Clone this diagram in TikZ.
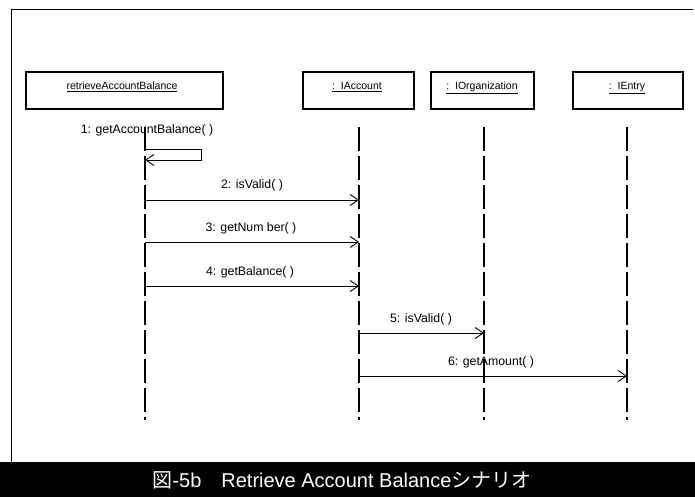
\documentclass[tikz,border=0pt]{standalone}
\usepackage{fontspec}
\setmainfont{Liberation Sans}
\newfontfamily\cjk{Noto Sans CJK JP}
\usetikzlibrary{arrows.meta}
\begin{document}
\begin{tikzpicture}[x=1pt,y=-1pt,
  objbox/.style={draw, line width=1.1pt, inner sep=0pt, minimum height=37pt},
  objname/.style={font=\fontsize{10.5}{12}\selectfont, inner sep=0pt, anchor=base},
  lifeline/.style={line width=1.1pt, dash pattern=on 24pt off 5pt},
  msg/.style={line width=0.9pt, -{Straight Barb[length=8pt,width=11pt,line width=0.9pt]}},
  msglabel/.style={font=\fontsize{12.3}{14}\selectfont, inner sep=0pt, anchor=base}]
\useasboundingbox (0,0) rectangle (695,497);
\fill[white] (0,0) rectangle (695,497);

% outer frame (open on the right)
\draw[line width=1pt] (11,462) -- (11,10) -- (693,10);

% object boxes
\node[objbox, minimum width=197pt] (b1) at (124.5,90.5) {};
\node[objbox, minimum width=111pt] (b2) at (358.5,90.5) {};
\node[objbox, minimum width=103pt] (b3) at (482.5,90.5) {};
\node[objbox, minimum width=110pt] (b4) at (628,90.5) {};
\node[objname] (t1) at (122,89.5) {\underline{retrieveAccountBalance}};
\node[objname] (t2) at (357,89.5) {\underline{:\ \ IAccount}};
\node[objname] (t3) at (482,89.5) {\underline{:\ \ IOrganization}};
\node[objname] (t4) at (627,89.5) {\underline{:\ \ IEntry}};

% lifelines
\coordinate (l1a) at (145,127); \coordinate (l1b) at (145,420);
\coordinate (l2a) at (359,127); \coordinate (l2b) at (359,420);
\coordinate (l3a) at (484,127); \coordinate (l3b) at (484,420);
\coordinate (l4a) at (627,127); \coordinate (l4b) at (627,420);
\draw[lifeline] (l1a) -- (l1b);
\draw[lifeline] (l2a) -- (l2b);
\draw[lifeline] (l3a) -- (l3b);
\draw[lifeline] (l4a) -- (l4b);

% message rows
\coordinate (m1) at (0,149); \coordinate (m1r) at (201,160);
\coordinate (m2) at (0,200);
\coordinate (m3) at (0,242);
\coordinate (m4) at (0,286);
\coordinate (m5) at (0,333);
\coordinate (m6) at (0,376);

% 1: self call
\node[msglabel] (k1) at (147,134) {1: getAccountBalance( )};
\draw[msg] (l1a |- m1) -| (m1r) -- (l1a |- m1r);

% 2-4: to IAccount
\node[msglabel] (k2) at (252,188) {2: isValid( )};
\draw[msg] (l1a |- m2) -- (l2a |- m2);
\node[msglabel] (k3) at (251,231) {3: getNum ber( )};
\draw[msg] (l1a |- m3) -- (l2a |- m3);
\node[msglabel] (k4) at (250,275) {4: getBalance( )};
\draw[msg] (l1a |- m4) -- (l2a |- m4);

% 5: to IOrganization
\node[msglabel] (k5) at (421,322) {5: isValid( )};
\draw[msg] (l2a |- m5) -- (l3a |- m5);

% 6: to IEntry
\node[msglabel] (k6) at (491,365) {6: getAmount( )};
\draw[msg] (l2a |- m6) -- (l4a |- m6);

% caption bar
\fill[black] (0,462) rectangle (695,497);
\node[text=white, font=\fontsize{20}{23}\selectfont, inner sep=0pt] (cap) at (342,480)
  {{\cjk 図}-5b\hspace{1em}Retrieve Account Balance{\cjk シナリオ}};
\end{tikzpicture}
\end{document}
